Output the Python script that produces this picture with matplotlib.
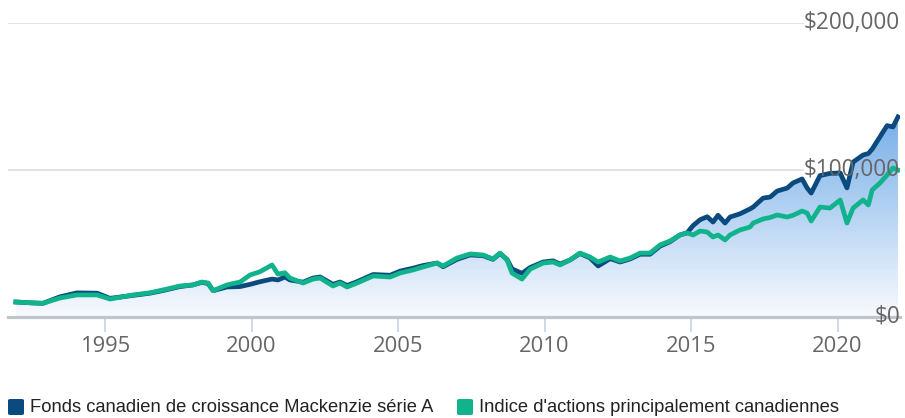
import numpy as np
import matplotlib
matplotlib.use("Agg")
import matplotlib.pyplot as plt
from matplotlib.patches import FancyBboxPatch
from matplotlib.colors import LinearSegmentedColormap

# ---------------- data (values in thousands of $) ----------------
years = [1991.96, 1992.50, 1992.88, 1993.46, 1994.04, 1994.73, 1995.17, 1995.96,
         1996.54, 1996.98, 1997.56, 1998.00, 1998.31, 1998.52, 1998.69, 1999.16,
         1999.61, 1999.95, 2000.29, 2000.70, 2000.90, 2001.14, 2001.31, 2001.76,
         2002.10, 2002.34, 2002.78, 2003.02, 2003.26, 2003.60, 2004.15, 2004.73,
         2005.07, 2005.51, 2005.85, 2006.33, 2006.54, 2007.01, 2007.46, 2007.90,
         2008.24, 2008.48, 2008.72, 2008.89, 2009.23, 2009.51, 2009.95, 2010.29,
         2010.53, 2010.87, 2011.21, 2011.55, 2011.83, 2012.24, 2012.58, 2012.92,
         2013.26, 2013.60, 2013.94, 2014.28, 2014.62, 2014.86, 2015.07, 2015.31,
         2015.55, 2015.75, 2015.92, 2016.16, 2016.33, 2016.67, 2017.01, 2017.12,
         2017.46, 2017.70, 2017.94, 2018.28, 2018.48, 2018.79, 2018.96, 2019.10,
         2019.40, 2019.74, 2020.09, 2020.32, 2020.53, 2020.87, 2021.05, 2021.18,
         2021.45, 2021.69, 2021.89, 2022.06]

fund = [10.0, 9.4, 9.1, 13.5, 16.2, 16.0, 12.5, 14.5,
        16.0, 17.8, 20.5, 21.6, 23.4, 22.5, 17.7, 20.2,
        20.5, 22.0, 23.8, 25.6, 25.0, 27.0, 25.0, 23.5,
        26.3, 27.0, 22.0, 23.6, 21.2, 23.8, 28.7, 28.2,
        31.0, 33.0, 34.8, 36.5, 34.0, 39.0, 42.0, 41.5,
        39.0, 43.0, 39.0, 32.5, 29.5, 33.5, 37.2, 38.0,
        35.8, 38.6, 43.0, 40.0, 34.5, 39.5, 37.2, 39.3,
        42.5, 42.5, 48.0, 51.0, 55.6, 57.0, 62.0, 66.0,
        68.0, 64.4, 69.0, 63.7, 67.8, 70.0, 73.3, 74.6,
        80.7, 81.4, 85.5, 87.5, 91.0, 93.7, 87.6, 84.1,
        96.0, 97.5, 97.8, 87.6, 105.2, 110.0, 111.0, 114.0,
        122.5, 130.0, 129.1, 135.9]

index = [10.0, 9.4, 9.1, 12.7, 14.8, 14.8, 12.0, 14.8,
         16.3, 18.2, 20.9, 21.6, 23.6, 22.9, 17.7, 21.6,
         23.6, 28.4, 30.6, 35.2, 29.0, 29.9, 26.3, 22.9,
         25.6, 26.3, 20.9, 22.9, 20.2, 22.9, 27.7, 27.0,
         29.7, 31.8, 33.8, 36.5, 34.5, 39.9, 42.7, 42.0,
         39.3, 43.3, 38.6, 29.7, 25.6, 32.4, 36.5, 37.2,
         35.2, 38.6, 43.3, 40.6, 37.2, 40.6, 37.9, 39.9,
         43.3, 43.3, 48.8, 51.5, 55.6, 57.0, 55.6, 58.3,
         57.6, 54.2, 55.6, 52.2, 55.6, 59.0, 61.0, 63.7,
         66.5, 67.5, 69.2, 67.8, 69.0, 71.9, 70.5, 65.1,
         74.6, 73.9, 79.4, 63.7, 73.9, 79.4, 76.0, 86.2,
         91.0, 96.4, 101.2, 99.8]

series_names = ["Fonds canadien de croissance Mackenzie série A",
                "Indice d'actions principalement canadiennes"]
x_ticks = [1995, 2000, 2005, 2010, 2015, 2020]
y_ticks = [0, 100, 200]
y_tick_labels = ["$0", "$100,000", "$200,000"]

BLUE = "#0a4a7e"
GREEN = "#10b38c"
GRAY_TXT = "#666666"

W, H = 905, 418
fig = plt.figure(figsize=(W / 100, H / 100), dpi=100)
fig.patch.set_facecolor("white")

def fx(px):
    return px / W

def fy(py):
    return 1 - py / H

left, right, top, bottom = 8, 900, 22.7, 316.7
ax = fig.add_axes([fx(left), fy(bottom), (right - left) / W, (bottom - top) / H])
ax.set_xlim(1991.69, 2022.13)
ax.set_ylim(0, 200)
ax.set_facecolor("none")

x = np.array(years)
yf = np.array(fund)
yi = np.array(index)

# gradient fill under the fund line
cmap = LinearSegmentedColormap.from_list("g", ["#f8fafe", "#3b8cde"])
grad = np.linspace(0, 1, 256).reshape(-1, 1)
img = ax.imshow(grad, extent=[x[0], x[-1], 0, 200], origin="lower",
                aspect="auto", cmap=cmap, zorder=1)
poly = ax.fill_between(x, 0, yf, facecolor="none", edgecolor="none")
clip_path = poly.get_paths()[0]
img.set_clip_path(clip_path, transform=ax.transData)

# gridlines (stop before the labels)
for yv in y_ticks[1:]:
    ax.axhline(yv, xmin=0, xmax=(803 - left) / (right - left), color="#e0e0e0",
               lw=1.3, zorder=0.5)

ax.plot(x, yf, color=BLUE, lw=3.4, zorder=3, solid_joinstyle="round")
ax.plot(x, yi, color=GREEN, lw=3.4, zorder=4, solid_joinstyle="round")

for s in ["top", "left", "right"]:
    ax.spines[s].set_visible(False)
ax.spines["bottom"].set_color("#c2c4cc")
ax.spines["bottom"].set_linewidth(2.3)
ax.spines["bottom"].set_zorder(5)

ax.set_yticks([])
ax.set_xticks(x_ticks)
ax.set_xticklabels([str(t) for t in x_ticks])
ax.tick_params(axis="x", length=11, width=1.3, color="#ccd6eb", pad=3,
               labelsize=15.8, labelcolor=GRAY_TXT)
for lab in ax.get_xticklabels():
    lab.set_fontfamily("Open Sans")

for yv, lab in zip(y_ticks, y_tick_labels):
    ax.text(1.0, yv, lab, transform=ax.get_yaxis_transform(), ha="right",
            va="center", fontsize=16.3, color=GRAY_TXT, family="Open Sans",
            zorder=6)

# legend
leg_items = [(8, BLUE, series_names[0]), (457, GREEN, series_names[1])]
for px, col, name in leg_items:
    sq = FancyBboxPatch((fx(px), fy(415)), 16 / W, 16 / H,
                        boxstyle="round,pad=0,rounding_size=0.003",
                        transform=fig.transFigure, facecolor=col,
                        edgecolor="none")
    fig.patches.append(sq)
    fig.text(fx(px + 22), fy(407), name, ha="left", va="center",
             fontsize=13.2, color="#222222", family="Liberation Sans")

fig.savefig("out.png", dpi=100)
